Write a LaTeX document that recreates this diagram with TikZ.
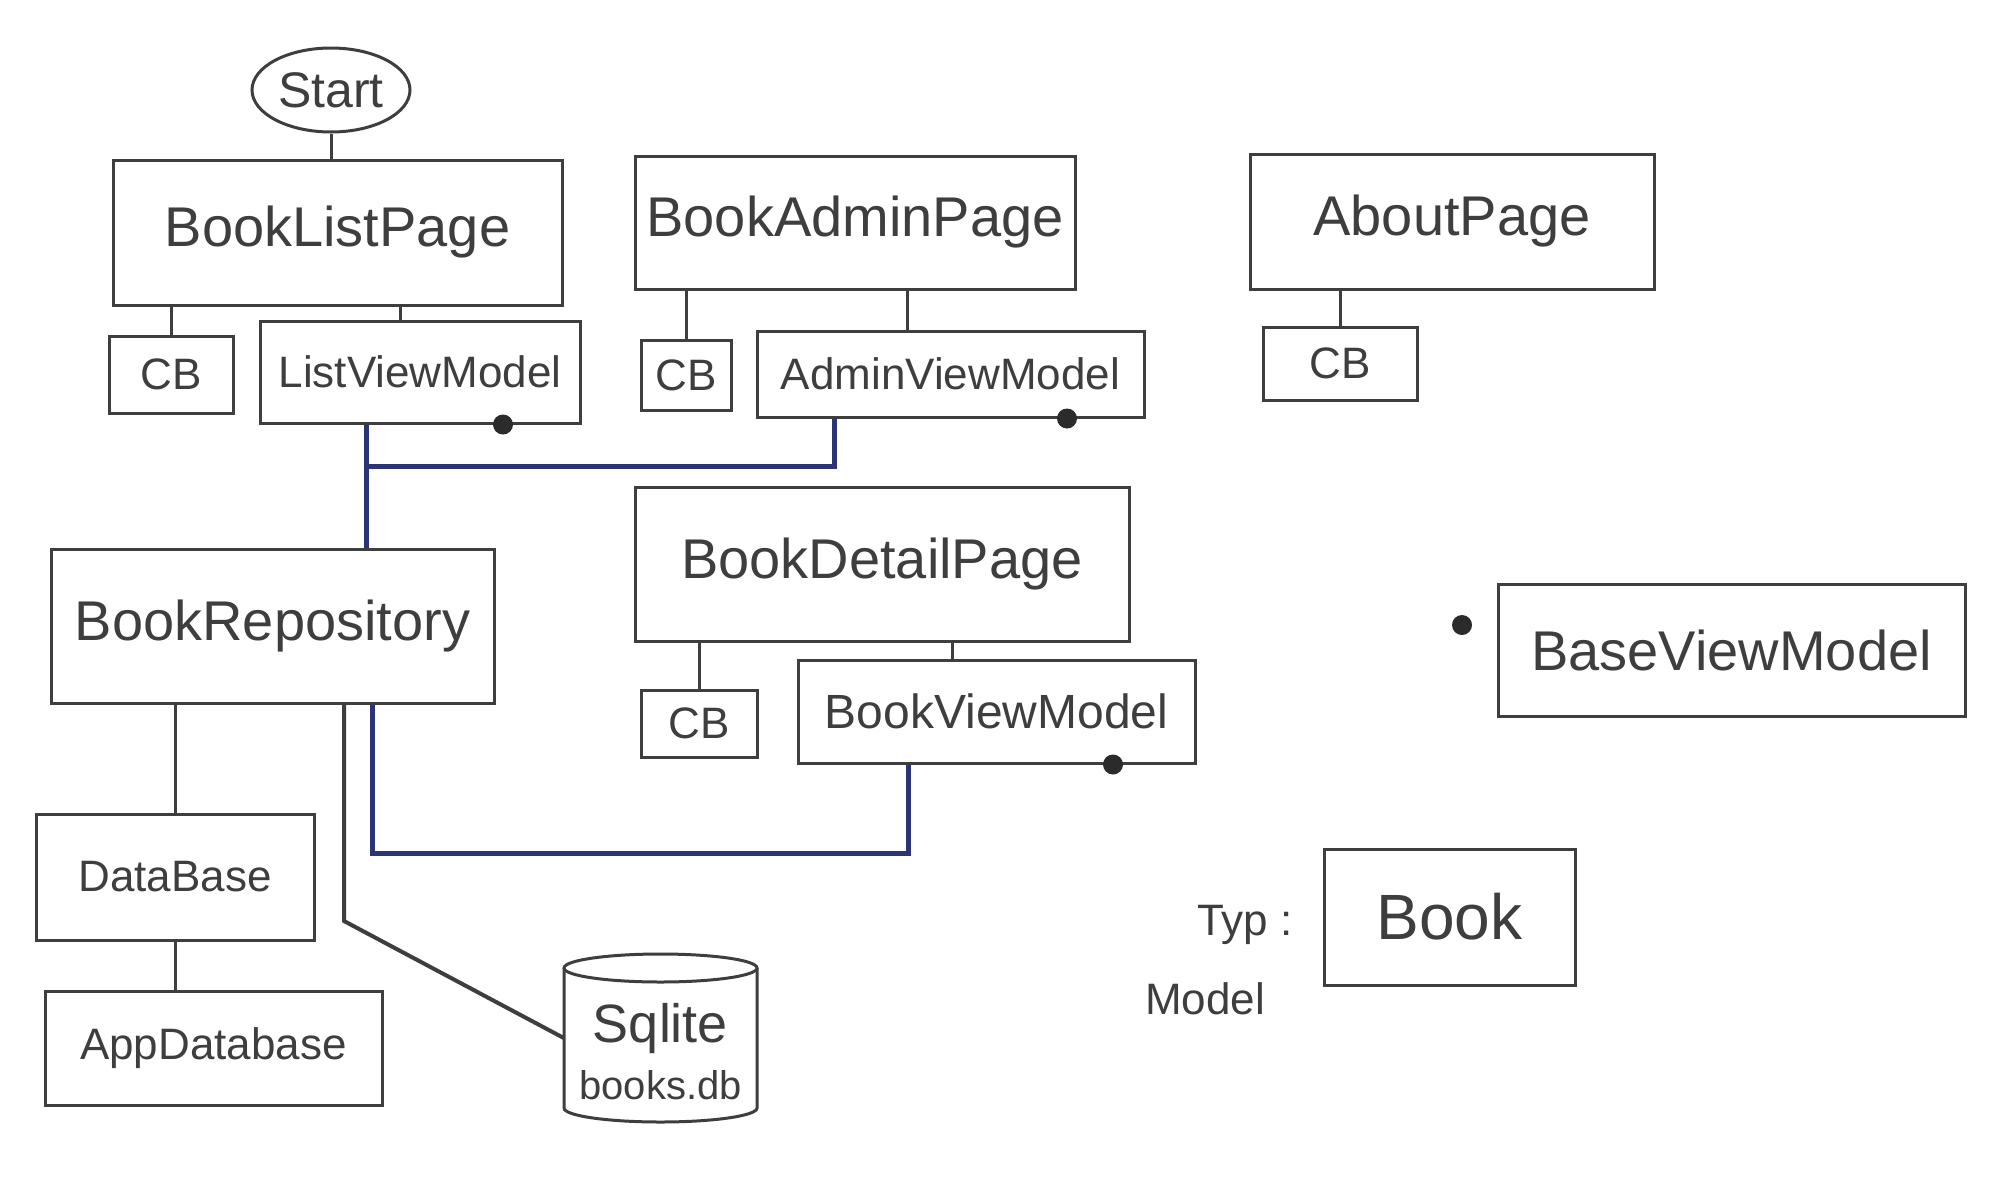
\documentclass[tikz,border=0pt]{standalone}
\usepackage{fontspec}
\setmainfont{Liberation Sans}
\usetikzlibrary{shapes.geometric}
\definecolor{pencil}{RGB}{62,62,62}
\definecolor{inkblue}{RGB}{42,52,118}
\begin{document}
\begin{tikzpicture}[x=1pt,y=-1pt,
  box/.style={draw=pencil, line width=3pt, rectangle, inner sep=0pt, text=pencil},
  big/.style={font=\fontsize{56}{62}\selectfont},
  mid/.style={font=\fontsize{44}{50}\selectfont},
  link/.style={draw=pencil, line width=3pt},
  bluelink/.style={draw=inkblue, line width=5pt},
  dotnode/.style={circle, fill=pencil!70!black, minimum size=20pt, inner sep=0pt},
  plain/.style={text=pencil, inner sep=0pt},
]
\fill[white] (0,0) rectangle (2011,1181);
\useasboundingbox (0,0) rectangle (2011,1181);

% nodes
\node[box, ellipse, minimum width=158pt, minimum height=84pt, font=\fontsize{50}{56}\selectfont] (start) at (331,90) {Start};
\node[box, big, minimum width=449pt, minimum height=145pt] (blp) at (337.5,232.5) {BookListPage};
\node[box, big, minimum width=440pt, minimum height=133pt] (bap) at (855,222.5) {BookAdminPage};
\node[box, big, minimum width=404pt, minimum height=135pt] (about) at (1452,221.5) {AboutPage};

\node[box, mid, minimum width=124pt, minimum height=77pt] (cb1) at (171,374.5) {CB};
\node[box, mid, minimum width=320pt, minimum height=102pt] (lvm) at (420,372) {ListViewModel};
\node[box, mid, minimum width=90pt, minimum height=70pt] (cb2) at (686,375) {CB};
\node[box, mid, minimum width=387pt, minimum height=86pt] (avm) at (950.5,374) {AdminViewModel};
\node[box, mid, minimum width=154pt, minimum height=73pt] (cb3) at (1340,363.5) {CB};

\node[box, big, minimum width=443pt, minimum height=154pt] (br) at (272.5,626) {BookRepository};
\node[box, big, minimum width=494pt, minimum height=154pt] (bdp) at (882,564) {BookDetailPage};
\node[box, mid, minimum width=116pt, minimum height=67pt] (cb4) at (699,723.5) {CB};
\node[box, font=\fontsize{48}{54}\selectfont, minimum width=397pt, minimum height=103pt] (bvm) at (996.5,711.5) {BookViewModel};

\node[box, mid, minimum width=278pt, minimum height=126pt] (db) at (175,877) {DataBase};
\node[box, mid, minimum width=337pt, minimum height=114pt] (appdb) at (213.5,1048) {AppDatabase};

\node[box, big, minimum width=467pt, minimum height=132pt] (basevm) at (1731.5,650) {BaseViewModel};
\node[box, font=\fontsize{64}{70}\selectfont, minimum width=251pt, minimum height=136pt] (book) at (1449.5,917) {Book};
\node[plain, mid] (typ) at (1245,925) {Typ :};
\node[plain, mid] (model) at (1205,999) {Model};

% Sqlite cylinder
\node[plain, align=center, minimum width=193pt, minimum height=140pt] (sqlite) at (660.5,1052)
  {{\fontsize{54}{60}\selectfont Sqlite}\\[16pt]{\fontsize{40}{46}\selectfont books.db}};
\draw[link] (564,968) -- (564,1108) arc[start angle=180, end angle=360, x radius=96.5pt, y radius=14pt] -- (757,968);
\draw[link] (660.5,968) ellipse[x radius=96.5pt, y radius=14pt];

% dots
\node[dotnode] (d1) at ([xshift=83pt]lvm.south) {};
\node[dotnode] (d2) at ([xshift=116.5pt]avm.south) {};
\node[dotnode] (d3) at ([xshift=116.5pt]bvm.south) {};
\node[dotnode] (d4) at (1462,625) {};

% pencil connectors
\draw[link] (start.south) -- (start.south |- blp.north);
\draw[link] (cb1.north) -- (cb1.north |- blp.south);
\coordinate (lvmtop) at ([xshift=-20pt]lvm.north);
\draw[link] (lvmtop) -- (lvmtop |- blp.south);
\draw[link] (cb2.north) -- (cb2.north |- bap.south);
\coordinate (avmtop) at ([xshift=-43.5pt]avm.north);
\draw[link] (avmtop) -- (avmtop |- bap.south);
\draw[link] (cb3.north) -- (cb3.north |- about.south);
\draw[link] (cb4.north) -- (cb4.north |- bdp.south);
\coordinate (bvmtop) at ([xshift=-44.5pt]bvm.north);
\draw[link] (bvmtop) -- (bvmtop |- bdp.south);
\draw[link] (db.north) -- (db.north |- br.south);
\draw[link] (db.south) -- (db.south |- appdb.north);

\coordinate (brb2) at ([xshift=71.5pt]br.south);
\coordinate (j3) at (344,921);
\draw[link, line width=4pt] (brb2) -- (j3) -- ([yshift=14pt]sqlite.west);

% blue connectors
\coordinate (lvmbot) at ([xshift=-54pt]lvm.south);
\draw[bluelink] (lvmbot) -- (lvmbot |- br.north);
\coordinate (avmbot) at ([xshift=-116.5pt]avm.south);
\coordinate (j1) at (366,466);
\draw[bluelink] (avmbot) |- (j1);
\coordinate (brb1) at ([xshift=99.5pt]br.south);
\coordinate (bvmb) at ([xshift=-88.5pt]bvm.south);
\coordinate (j2) at (372,853);
\draw[bluelink] (brb1) -- (j2) -| (bvmb);
\end{tikzpicture}
\end{document}
